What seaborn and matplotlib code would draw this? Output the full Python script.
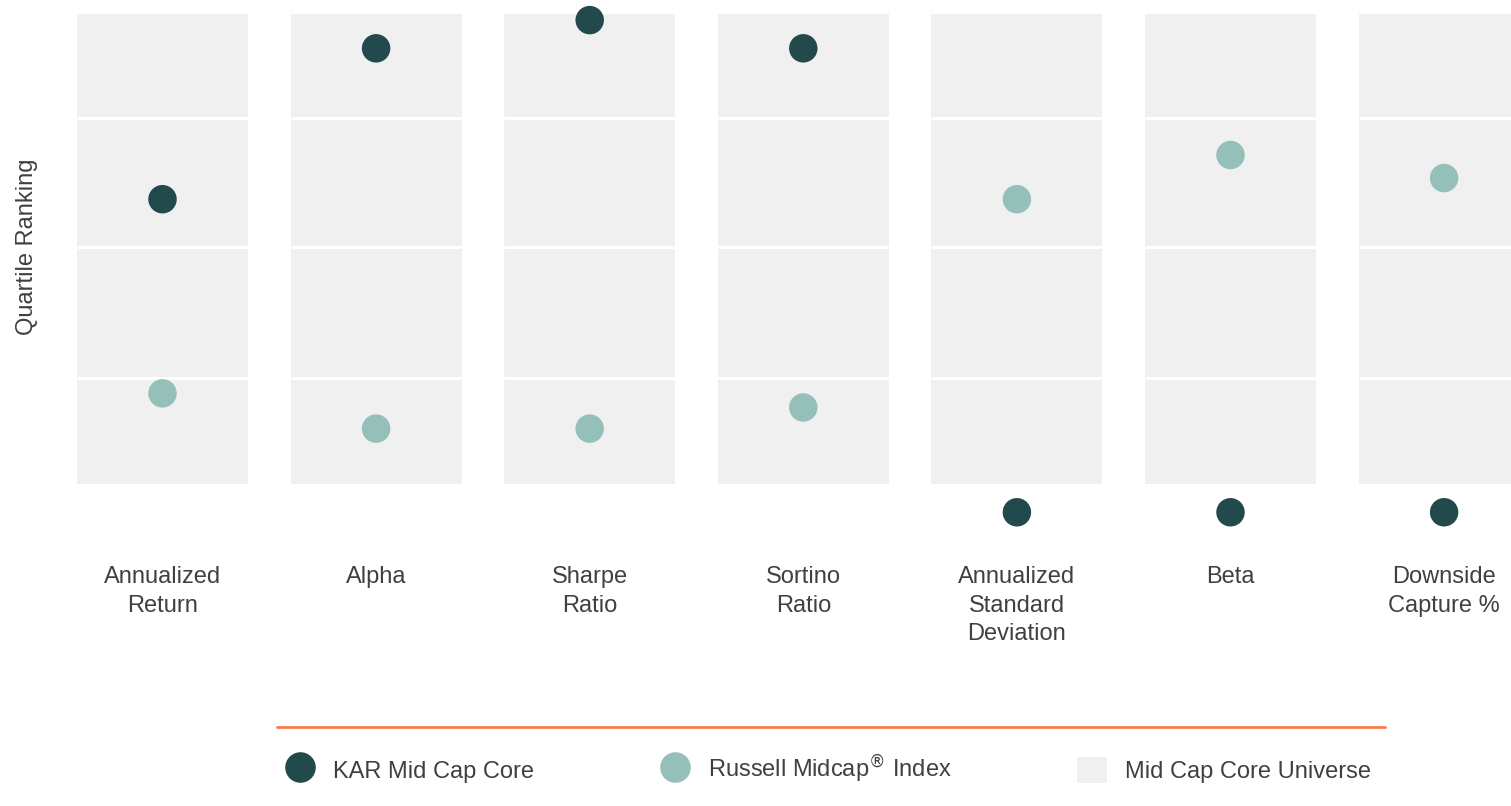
import pandas as pd
import numpy as np
import matplotlib
matplotlib.use('Agg')
import matplotlib.pyplot as plt
from matplotlib.lines import Line2D
from matplotlib.patches import Patch
import seaborn as sns

# ------------------------------------------------------------
# data (rank scale: 0 = best / top of box, 100 = worst / bottom)
# ------------------------------------------------------------
metrics = ['Annualized\nReturn', 'Alpha', 'Sharpe\nRatio', 'Sortino\nRatio',
           'Annualized\nStandard\nDeviation', 'Beta', 'Downside\nCapture %']
kar_rank = [39.4, 7.3, 1.3, 7.3, 106.0, 106.0, 106.0]
russell_rank = [80.7, 88.2, 88.2, 83.7, 39.4, 30.0, 34.9]
universe_low = [0, 0, 0, 0, 0, 0, 0]
universe_high = [100, 100, 100, 100, 100, 100, 100]
quartile_breaks = [22.1, 49.5, 77.4]

DARK = '#224a4c'
LIGHT = '#95c0ba'
BOX = '#f0f0f0'
ORANGE = '#f47b4b'
TXT = '#404040'

sns.set_style('white')
plt.rcParams['font.family'] = ['Liberation Sans', 'DejaVu Sans']

fig = plt.figure(figsize=(15.11, 8.06), dpi=100)
ax = fig.add_axes([60 / 1511, 1 - 540 / 806, 1451 / 1511, 540 / 806])

# universe box
uni = pd.DataFrame({'metric': metrics, 'span': universe_high})
sns.barplot(data=uni, x='metric', y='span', order=metrics, color=BOX,
            width=0.8, saturation=1, linewidth=0, ax=ax, zorder=1)

# quartile separators within each box
for i in range(len(metrics)):
    ax.hlines(quartile_breaks, i - 0.4, i + 0.4, color='white', lw=2.2, zorder=2)

# ranking dots
dots = pd.DataFrame({
    'metric': metrics * 2,
    'rank': kar_rank + russell_rank,
    'series': ['KAR Mid Cap Core'] * len(metrics) + ['Russell Midcap Index'] * len(metrics),
})
sns.stripplot(data=dots, x='metric', y='rank', hue='series', order=metrics,
              palette={'KAR Mid Cap Core': DARK, 'Russell Midcap Index': LIGHT},
              jitter=False, size=20.5, linewidth=0, legend=False, ax=ax, zorder=3)

ax.set_xlim((60 - 162.5) / 213.6, (1511 - 162.5) / 213.6)
ax.set_ylim(111.9, -2.98)
for s in ax.spines.values():
    s.set_visible(False)
ax.set_yticks([])
ax.set_xticks(range(len(metrics)))
ax.set_xticklabels(metrics, fontsize=17, color=TXT, linespacing=1.37)
ax.tick_params(axis='x', length=0, pad=19)
ax.set_xlabel('')
ax.set_ylabel('Quartile Ranking', fontsize=17, color=TXT)
ax.yaxis.set_label_coords(-0.015, 1 - 247 / 540)

# orange rule above the legend
fig.add_artist(Line2D([277 / 1511, 1385 / 1511], [1 - 727 / 806] * 2,
                      transform=fig.transFigure, color=ORANGE, lw=2))

handles = [
    Line2D([], [], marker='o', ls='', markersize=21, color=DARK),
    Line2D([], [], marker='o', ls='', markersize=21, color=LIGHT),
    Patch(facecolor=BOX, edgecolor='none'),
]
labels = ['KAR Mid Cap Core', 'Russell Midcap$^{\\circledR}$ Index', 'Mid Cap Core Universe']
leg = fig.legend(handles, labels, loc='center', bbox_to_anchor=(828 / 1511, 1 - 769 / 806),
                 ncol=3, frameon=False, fontsize=17, handlelength=1.3, handleheight=1.3,
                 handletextpad=0.75, columnspacing=5.3)
for t in leg.get_texts():
    t.set_color(TXT)

fig.savefig('out.png', dpi=100)
